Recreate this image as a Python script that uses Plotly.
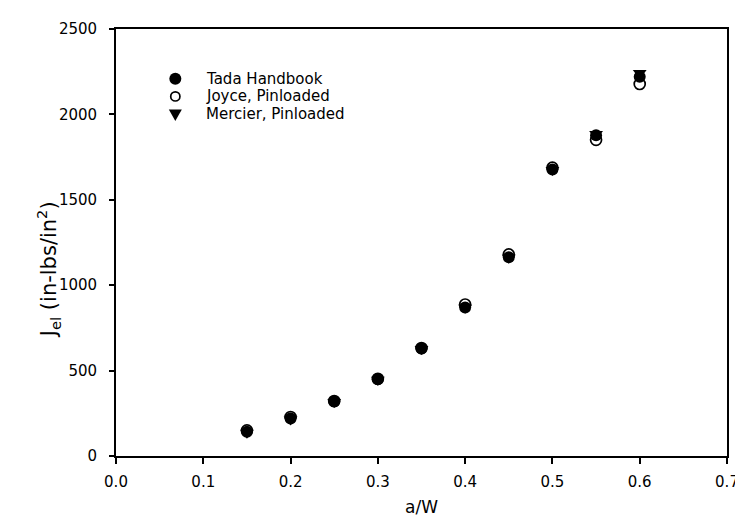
import plotly.graph_objects as go

# a/W values
aw = [0.15, 0.20, 0.25, 0.30, 0.35, 0.40, 0.45, 0.50, 0.55, 0.60]
# J_el (in-lbs/in^2)
tada = [142, 219, 319, 449, 629, 870, 1163, 1677, 1878, 2220]
joyce = [150, 228, 322, 452, 632, 887, 1180, 1688, 1851, 2178]
mercier = [136, 214, 316, 446, 627, 868, 1160, 1674, 1885, 2243]

series_names = ["Tada Handbook", "Joyce, Pinloaded", "Mercier, Pinloaded"]

x_ticks = [0.0, 0.1, 0.2, 0.3, 0.4, 0.5, 0.6, 0.7]
x_ticklabels = ["0.0", "0.1", "0.2", "0.3", "0.4", "0.5", "0.6", "0.7"]
y_ticks = [0, 500, 1000, 1500, 2000, 2500]
y_ticklabels = ["0", "500", "1000", "1500", "2000", "2500"]

FONT = "DejaVu Sans, Liberation Sans, Arial, sans-serif"

W, H = 743, 518
L, R, T, B = 108, 17, 12, 69
PW, PH = W - L - R, H - T - B


def xp(px):
    return (px - L) / PW


def yp(py):
    return (H - B - py) / PH


fig = go.Figure()
fig.add_trace(go.Scatter(
    x=aw, y=joyce, mode="markers", name=series_names[1],
    marker=dict(symbol="circle", size=11, color="white",
                line=dict(color="black", width=1.7)),
))
fig.add_trace(go.Scatter(
    x=aw, y=mercier, mode="markers", name=series_names[2],
    marker=dict(symbol="triangle-down", size=12, color="black",
                line=dict(color="black", width=0)),
))
fig.add_trace(go.Scatter(
    x=aw, y=tada, mode="markers", name=series_names[0],
    marker=dict(symbol="circle", size=12, color="black",
                line=dict(color="black", width=0)),
))

# hand-placed legend (symbols as pixel-sized shapes, labels as text)
leg_x_sym, leg_x_txt = 168, 197
leg_rows = [63, 81, 99]
shapes = [
    dict(type="circle", xref="paper", yref="paper", xsizemode="pixel", ysizemode="pixel",
         xanchor=xp(leg_x_sym), yanchor=yp(leg_rows[0]), x0=-6, x1=6, y0=-6, y1=6,
         fillcolor="black", line=dict(color="black", width=0)),
    dict(type="circle", xref="paper", yref="paper", xsizemode="pixel", ysizemode="pixel",
         xanchor=xp(leg_x_sym), yanchor=yp(leg_rows[1]), x0=-4.6, x1=4.6, y0=-4.6, y1=4.6,
         fillcolor="white", line=dict(color="black", width=1.7)),
    dict(type="path", xref="paper", yref="paper", xsizemode="pixel", ysizemode="pixel",
         xanchor=xp(leg_x_sym), yanchor=yp(leg_rows[2]),
         path="M -6.5,4.5 L 6.5,4.5 L 0,-7 Z",
         fillcolor="black", line=dict(color="black", width=0)),
]
annotations = []
for name, row in zip(series_names, leg_rows):
    annotations.append(dict(
        text=name, xref="paper", yref="paper", x=xp(leg_x_txt), y=yp(row),
        xanchor="left", yanchor="middle", showarrow=False,
        font=dict(family=FONT, size=15, color="black")))

annotations.append(dict(
    text="J<sub>el</sub> (in-lbs/in<sup>2</sup>)", textangle=-90,
    xref="paper", yref="paper", x=xp(40), y=yp(258),
    xanchor="center", yanchor="middle", showarrow=False,
    font=dict(family=FONT, size=21, color="black")))

fig.update_layout(
    width=W, height=H,
    margin=dict(l=L, r=R, t=T, b=B),
    paper_bgcolor="white", plot_bgcolor="white",
    font=dict(family=FONT, size=15, color="black"),
    showlegend=False,
    xaxis=dict(range=[0, 0.7], tickvals=x_ticks, ticktext=x_ticklabels,
               showgrid=False, zeroline=False, showline=True, linecolor="black",
               linewidth=1.8, mirror=True, ticks="outside", ticklen=6,
               tickwidth=1.5, tickcolor="black", ticklabelstandoff=5,
               tickfont=dict(family=FONT, size=15),
               title=dict(text="a/W", font=dict(family=FONT, size=17), standoff=11)),
    yaxis=dict(range=[0, 2500], tickvals=y_ticks, ticktext=y_ticklabels,
               showgrid=False, zeroline=False, showline=True, linecolor="black",
               linewidth=1.8, mirror=True, ticks="outside", ticklen=5,
               tickwidth=1.5, tickcolor="black", ticklabelstandoff=9,
               tickfont=dict(family=FONT, size=15)),
    shapes=shapes,
    annotations=annotations,
)

fig.write_html("out.html")
